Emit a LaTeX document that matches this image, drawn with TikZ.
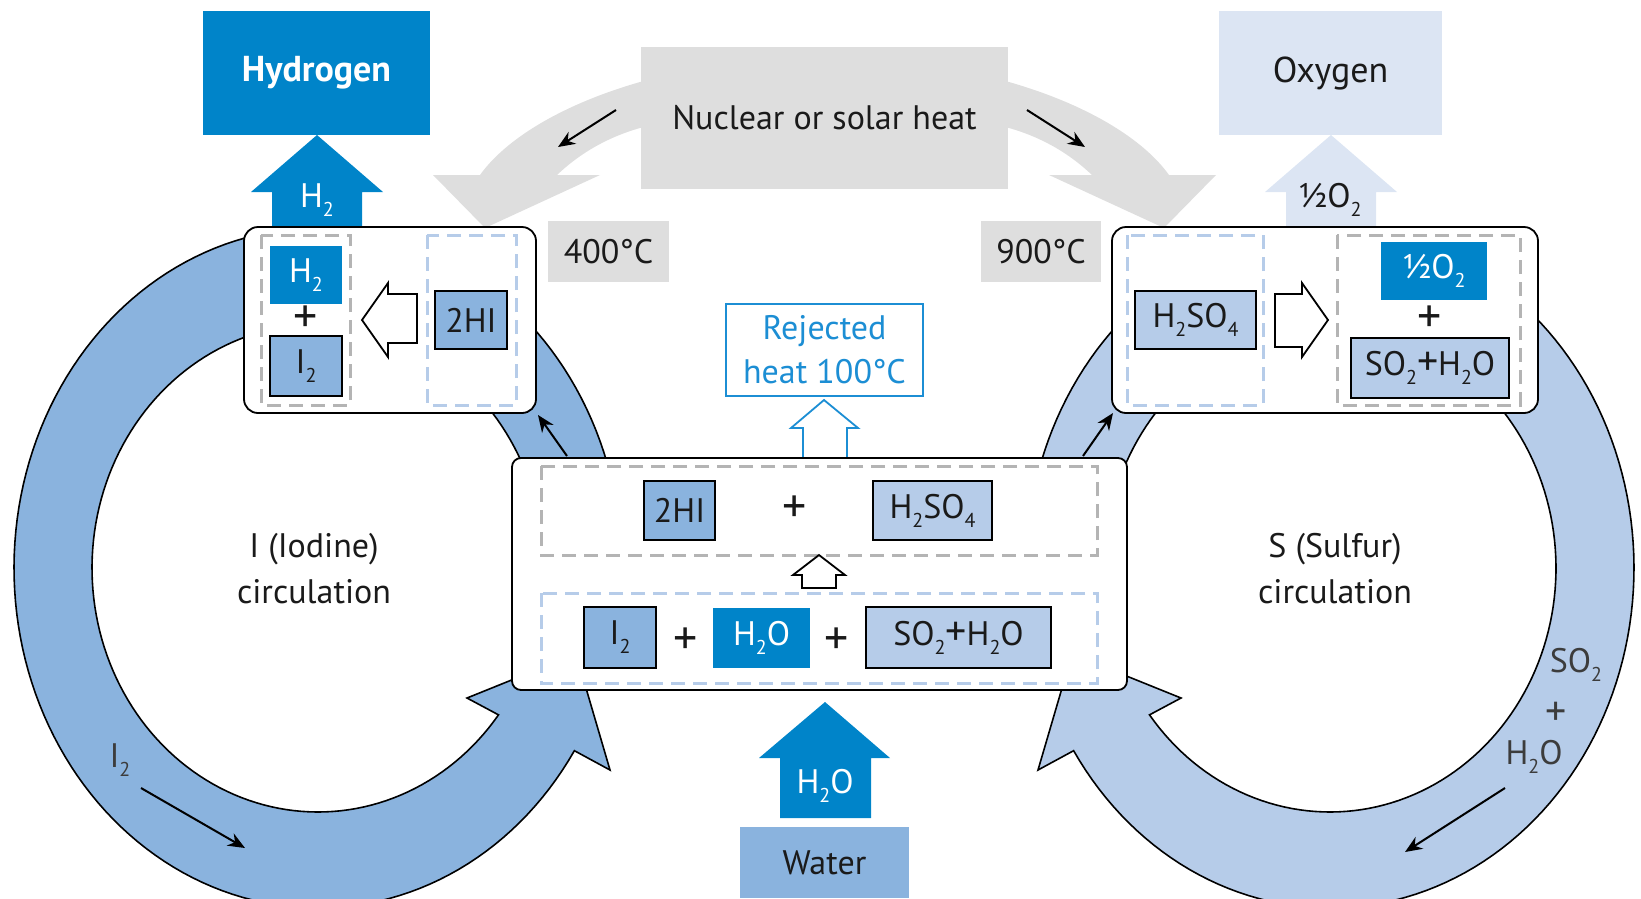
\documentclass[tikz,border=0pt]{standalone}
\usepackage{fontspec}
\setmainfont{PT Sans}
\usetikzlibrary{arrows.meta}

\definecolor{dkblue}{HTML}{0084C9}
\definecolor{mdblue}{HTML}{8AB3DE}
\definecolor{ltblue}{HTML}{B6CCE9}
\definecolor{paleblue}{HTML}{DCE5F3}
\definecolor{heatgray}{HTML}{DEDEDE}
\definecolor{dashgray}{HTML}{B4B4B4}
\definecolor{rejblue}{HTML}{1C8ED4}
\definecolor{ink}{HTML}{1A1A1A}

% chemical subscript: small and well below the baseline
\newcommand\chsub[1]{\raisebox{-9pt}{\fontsize{20}{20}\selectfont #1}}
% plus sign inside formulas and between species
\newcommand\chplus{{\fontsize{42}{42}\selectfont +}}
\newcommand\bigplus{{\fontsize{48}{48}\selectfont +}}

\begin{document}
\begin{tikzpicture}[x=1pt,y=-1pt,
  every node/.style={font=\fontsize{34}{44}\selectfont, text=ink, inner sep=0pt},
  ringshape/.style={draw=black, line width=1.6pt},
  rbox/.style={draw=black, line width=1.8pt, fill=white},
  mdbox/.style={fill=mdblue, draw=black, line width=1.8pt},
  ltbox/.style={fill=ltblue, draw=black, line width=1.8pt},
  dkbox/.style={fill=dkblue, text=white},
  graybox/.style={fill=heatgray},
  grdash/.style={draw=dashgray, line width=3pt, dash pattern=on 14pt off 8pt},
  bldash/.style={draw=ltblue, line width=3pt, dash pattern=on 14pt off 8pt},
  hollow/.style={fill=white, draw=black, line width=1.8pt},
  blackarrow/.style={-{Stealth[length=17pt,width=14pt]}, line width=2pt, black},
]
\useasboundingbox (0,0) rectangle (1641,898);

% ---------- iodine and sulfur circulation rings ----------
\filldraw[ringshape, fill=mdblue]
  plot[domain=-10:-327.5, samples=160] ({318+304*cos(\x)},{568+340*sin(\x)})
  -- (610,770) -- (576,654) -- (467,698)
  -- plot[domain=-323:-10, samples=160] ({318+226*cos(\x)},{568+244*sin(\x)})
  -- cycle;
\filldraw[ringshape, fill=ltblue]
  plot[domain=-10:-327.5, samples=160] ({1330-304*cos(\x)},{568+340*sin(\x)})
  -- (1038,770) -- (1072,654) -- (1181,698)
  -- plot[domain=-323:-10, samples=160] ({1330-226*cos(\x)},{568+244*sin(\x)})
  -- cycle;

% ---------- heat supply ----------
\fill[heatgray] (680,78) -- (640,82) .. controls (560,105) and (505,140) .. (480,175)
  -- (433,175) -- (485,228) -- (600,175) -- (557,175)
  .. controls (578,155) and (605,138) .. (640,128) -- (680,124) -- cycle;
\fill[heatgray] (969,78) -- (1009,82) .. controls (1089,105) and (1144,140) .. (1169,175)
  -- (1216,175) -- (1164,228) -- (1049,175) -- (1092,175)
  .. controls (1071,155) and (1044,138) .. (1009,128) -- (969,124) -- cycle;
\node[graybox, minimum width=367, minimum height=142] (nuc) at (824.5,118) {Nuclear or solar heat};
\node[graybox, minimum width=121, minimum height=61] (t400) at (608.5,251.5) {400°C};
\node[graybox, minimum width=120, minimum height=61] (t900) at (1041,251.5) {900°C};

\coordinate (hl1) at (616,110); \coordinate (hl2) at (558,147);
\coordinate (hr1) at (1027,110); \coordinate (hr2) at (1085,147);
\draw[blackarrow] (hl1) -- (hl2);
\draw[blackarrow] (hr1) -- (hr2);

% ---------- products ----------
\fill[dkblue] (317,135) -- (383,192) -- (362,192) -- (362,228) -- (272,228) -- (272,192) -- (251,192) -- cycle;
\fill[paleblue] (1331,135) -- (1397,192) -- (1376,192) -- (1376,228) -- (1286,228) -- (1286,192) -- (1265,192) -- cycle;
\node[dkbox, minimum width=227, minimum height=124, font=\fontsize{36}{44}\selectfont\bfseries] (hyd) at (316.5,73) {Hydrogen};
\node[fill=paleblue, minimum width=223, minimum height=124, font=\fontsize{36}{44}\selectfont] (oxy) at (1330.5,73) {Oxygen};
\node[text=white] (h2lab) at (317,200) {H\chsub{2}};
\node (o2lab) at (1330,200) {½O\chsub{2}};

% ---------- HI decomposition (400 °C) ----------
\node[rbox, rounded corners=14pt, minimum width=292, minimum height=186] (lbox) at (390,320) {};
\draw[grdash] (261,235) rectangle (350,405);
\draw[bldash] (427,235) rectangle (516,405);
\node[dkbox, minimum width=72, minimum height=58] (lh2) at (306,275) {H\chsub{2}};
\node (lplus) at (306,319) {\bigplus};
\node[mdbox, minimum width=72, minimum height=60] (li2) at (306,366) {I\chsub{2}};
\node[mdbox, minimum width=72, minimum height=58] (lhi) at (471,320) {2HI};
\draw[hollow] (362,320) -- (388,283) -- (388,294) -- (417,294) -- (417,343) -- (388,343) -- (388,357) -- cycle;

% ---------- H2SO4 decomposition (900 °C) ----------
\node[rbox, rounded corners=14pt, minimum width=426, minimum height=186] (rbx) at (1325,320) {};
\draw[bldash] (1127,235) rectangle (1263,405);
\draw[grdash] (1337,235) rectangle (1520,405);
\node[ltbox, minimum width=121, minimum height=58] (rso4) at (1195.5,320) {H\chsub{2}SO\chsub{4}};
\node[dkbox, minimum width=106, minimum height=58] (ro2) at (1434,271) {½O\chsub{2}};
\node (rplus) at (1430,319) {\bigplus};
\node[ltbox, minimum width=158, minimum height=60] (rso2) at (1430,368) {SO\chsub{2}\chplus H\chsub{2}O};
\draw[hollow] (1328,320) -- (1302,283) -- (1302,294) -- (1275,294) -- (1275,347) -- (1302,347) -- (1302,357) -- cycle;

% ---------- rejected heat ----------
\draw[fill=white, draw=rejblue, line width=1.8pt] (824,400) -- (858,428) -- (847,428) -- (847,458) -- (803,458) -- (803,428) -- (791,428) -- cycle;
\node[fill=white, draw=rejblue, line width=1.8pt, text=rejblue, align=center,
      minimum width=197, minimum height=92] (rej) at (824.5,350) {Rejected\\heat 100°C};

% ---------- Bunsen reaction (central) ----------
\node[rbox, rounded corners=9pt, minimum width=615, minimum height=232] (cbox) at (819.5,574) {};
\draw[grdash] (541,466) rectangle (1097,555);
\draw[bldash] (541,593) rectangle (1097,683);
\node[mdbox, minimum width=71, minimum height=59] (chi) at (679.5,510.5) {2HI};
\node (cplus1) at (795,509) {\bigplus};
\node[ltbox, minimum width=119, minimum height=59] (cso4) at (932.5,510.5) {H\chsub{2}SO\chsub{4}};
\draw[hollow] (819,555) -- (845,575) -- (836,575) -- (836,588) -- (802,588) -- (802,575) -- (793,575) -- cycle;
\node[mdbox, minimum width=72, minimum height=61] (ci2) at (620,637.5) {I\chsub{2}};
\node (cplus2) at (686,641) {\bigplus};
\node[dkbox, minimum width=97, minimum height=60] (ch2o) at (761.5,638) {H\chsub{2}O};
\node (cplus3) at (837,641) {\bigplus};
\node[ltbox, minimum width=185, minimum height=61] (cso2) at (958.5,637.5) {SO\chsub{2}\chplus H\chsub{2}O};

% ---------- water feed ----------
\fill[dkblue] (825,702) -- (890,758) -- (871,758) -- (871,818) -- (780,818) -- (780,758) -- (759,758) -- cycle;
\node[text=white] (h2oin) at (825,786) {H\chsub{2}O};
\node[fill=mdblue, minimum width=169, minimum height=71] (water) at (824.5,862.5) {Water};

% ---------- ring labels and flow arrows ----------
\node[align=center, font=\fontsize{34}{46}\selectfont] (icirc) at (314,569) {I (Iodine)\\circulation};
\node[align=center, font=\fontsize{34}{46}\selectfont] (scirc) at (1335,569) {S (Sulfur)\\circulation};
\node[text=ink!85] (i2lab) at (120,760) {I\chsub{2}};
\node[text=ink!85] (so2lab) at (1576,665) {SO\chsub{2}};
\node[text=ink!85] (so2plus) at (1556,714) {\chplus};
\node[text=ink!85] (h2olab) at (1534,757) {H\chsub{2}O};

\coordinate (la1) at (567,456); \coordinate (la2) at (538,415);
\coordinate (ra1) at (1083,456); \coordinate (ra2) at (1113,413);
\coordinate (ia1) at (141,788); \coordinate (ia2) at (245,848);
\coordinate (sa1) at (1505,788); \coordinate (sa2) at (1405,852);
\draw[blackarrow] (la1) -- (la2);
\draw[blackarrow] (ra1) -- (ra2);
\draw[blackarrow] (ia1) -- (ia2);
\draw[blackarrow] (sa1) -- (sa2);
\end{tikzpicture}
\end{document}
